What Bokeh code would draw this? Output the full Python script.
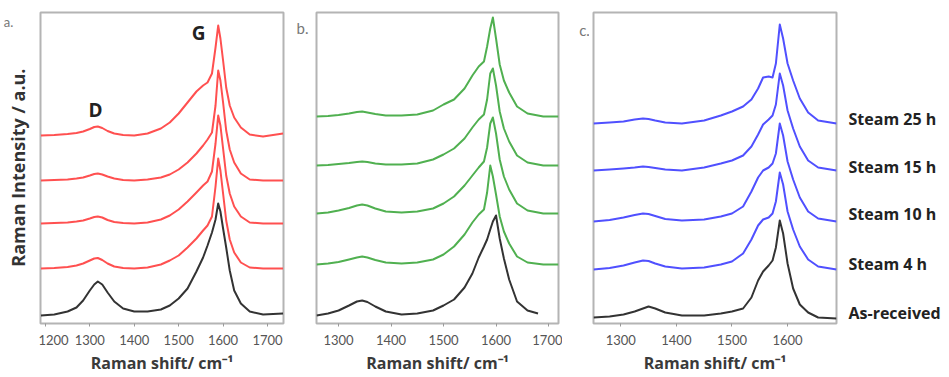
import math
from bokeh.plotting import figure
from bokeh.layouts import row
from bokeh.models import Range1d, FixedTicker
from bokeh.core.properties import value
from bokeh.embed import file_html
from bokeh.resources import INLINE

# ---------------- data -------------------------------------------------------------
# Raman shift (cm^-1) and intensity (a.u.) of each spectrum; the spectra are stacked
# with the vertical offsets given per panel (As-received at the bottom).
shift_a = [1190, 1220, 1250, 1270, 1285, 1300, 1310, 1318, 1328, 1340, 1355, 1375, 1400,
           1430, 1460, 1480, 1500, 1520, 1540, 1555, 1565, 1575, 1583, 1589, 1594, 1600,
           1607, 1615, 1625, 1640, 1660, 1690, 1735]
a_steam25 = [0, 0.5, 1.5, 2.5, 4, 6.5, 8.5, 9, 7.5, 4.5, 2, 0.5, 0,
             2, 7, 13, 22, 33, 44, 50, 53, 62, 88, 110, 97, 75,
             48, 30, 18, 8, 1, -1, 2]
a_steam15 = [0, 0.5, 1, 2, 3, 5, 6.5, 7, 6, 4, 2, 0.5, 0,
             1, 3, 6, 11, 18, 27, 35, 41, 48, 75, 110, 100, 78,
             50, 31, 18, 7, 1, 0, 0]
a_steam10 = [0, 0.5, 1, 2, 3, 5, 6.5, 7, 6, 3.5, 1.5, 0.5, 0,
             1, 4, 8, 14, 22, 31, 38, 42, 52, 80, 108, 98, 75,
             48, 30, 17, 7, 1, 0, 0]
a_steam4 = [0, 0.5, 1.5, 3, 5, 8, 10, 10.5, 8.5, 5, 2, 0.5, 0,
            1, 4, 8, 13, 21, 30, 38, 43, 52, 82, 110, 98, 75,
            48, 29, 16, 6, 1, 0, 0]
a_asrec = [0, 1, 4, 8, 15, 25, 31, 34, 31, 23, 14, 7, 4,
           4, 6, 10, 17, 27, 44, 58, 70, 83, 96, 112, 104, 87,
           68, 45, 25, 12, 4, 1, 2]
offsets_a = [188, 143, 100, 55, 8]

shift_b = [1258, 1280, 1300, 1320, 1335, 1345, 1355, 1370, 1390, 1420, 1450, 1480, 1500,
           1520, 1540, 1555, 1567, 1577, 1583, 1589, 1594, 1600, 1607, 1615, 1625, 1640,
           1660, 1690, 1719]
b_steam25 = [0, 0.5, 1.5, 3, 4.5, 5, 4, 2.5, 1, 1, 2, 6, 12,
             17, 28, 41, 50, 55, 70, 88, 99, 78, 52, 36, 24, 10,
             3, 0, 0]
b_steam15 = [0, 0.5, 1.5, 2.5, 3.5, 4, 3.5, 2, 1, 1, 2, 6, 11,
             17, 27, 38, 46, 51, 66, 92, 97, 80, 54, 37, 24, 10,
             3, 0, 0]
b_steam10 = [0, 1, 3, 5.5, 8, 9, 8, 5, 2, 1, 2, 5, 10,
             17, 28, 38, 46, 52, 66, 90, 96, 80, 54, 37, 24, 10,
             3, 0, 0]
b_steam4 = [0, 1, 2.5, 5, 7, 8, 7, 4.5, 2, 1, 2, 5, 10,
            18, 30, 42, 50, 55, 72, 99, 88, 70, 48, 33, 21, 8,
            2, 0, 0]
shift_b_ar = [1258, 1280, 1300, 1320, 1335, 1345, 1355, 1370, 1390, 1420, 1450, 1480, 1500,
              1520, 1540, 1555, 1567, 1577, 1583, 1589, 1594, 1600, 1607, 1615, 1625, 1640,
              1660, 1680]
b_asrec = [0, 2, 5, 10, 14, 15, 13.5, 9, 4, 1, 2, 5, 10,
           16, 28, 42, 58, 69, 76, 86, 94, 100, 77, 57, 36, 14,
           5, 2]
offsets_b = [207, 158, 110, 59, 8]

shift_c = [1251, 1280, 1305, 1325, 1340, 1350, 1362, 1380, 1410, 1450, 1480, 1500, 1520,
           1535, 1547, 1556, 1566, 1573, 1579, 1586, 1592, 1600, 1610, 1622, 1637, 1655,
           1688]
c_steam25 = [0, 1, 2, 4, 5, 4.5, 3, 1, 0, 3, 8, 12, 17,
             24, 35, 46, 47, 46, 60, 99, 85, 60, 43, 25, 11, 3,
             0]
c_steam15 = [0, 1, 2, 3, 4, 3.5, 2.5, 1, 0, 3, 7, 10, 15,
             24, 36, 46, 51, 55, 66, 97, 85, 60, 42, 24, 10, 3,
             0]
c_steam10 = [0, 1.5, 4, 6.5, 8, 7.5, 5.5, 2.5, 1, 2, 5, 8, 15,
             30, 44, 51, 54, 58, 68, 98, 86, 60, 42, 24, 10, 3,
             0]
c_steam4 = [0, 1.5, 4, 7, 9, 8.5, 6, 3, 1, 2, 5, 8, 16,
            30, 44, 50, 52, 56, 68, 97, 85, 58, 40, 23, 10, 3,
            0]
c_asrec = [0, 1, 3, 6, 9, 11, 9, 5, 2, 2, 4, 6, 9,
           20, 37, 46, 52, 57, 70, 97, 84, 54, 29, 13, 5, 0,
           -1]
offsets_c = [200, 153, 102, 54, 6]

ticks_a = [1200, 1300, 1400, 1500, 1600, 1700]
ticks_b = [1300, 1400, 1500, 1600, 1700]
ticks_c = [1300, 1400, 1500, 1600]

series_labels = ["Steam 25 h", "Steam 15 h", "Steam 10 h", "Steam 4 h", "As-received"]
label_levels = [205, 157, 110, 60, 11]
peak_names = ["D", "G"]
peak_pos = [1313, 1545]
peak_lvl = [214, 291]
panel_tags = ["a.", "b.", "c."]
y_title = "Raman Intensity / a.u."
x_title = "Raman shift/ cm\u207b\u00b9"

RED = "#ff5050"
GREEN = "#50b050"
BLUE = "#5050ff"
BLACK = "#333333"
FONT = "Lato"
TFONT = "Open Sans"
H = 377


# ---------------- helpers ----------------
def make_panel(width, xr, left, right, ticks):
    p = figure(width=width, height=H, x_range=Range1d(*xr), y_range=Range1d(0, 311),
               output_backend="svg", toolbar_location=None,
               min_border_left=left, min_border_right=right,
               min_border_top=12, min_border_bottom=54)
    p.yaxis.visible = False
    p.grid.visible = False
    p.outline_line_color = "#b4b4b4"
    p.outline_line_width = 2
    ax = p.xaxis[0]
    ax.ticker = FixedTicker(ticks=ticks)
    ax.axis_line_color = None
    ax.major_tick_in = 0
    ax.major_tick_out = 3
    ax.major_tick_line_color = "#999999"
    ax.minor_tick_line_color = None
    ax.major_label_standoff = 8
    ax.major_label_text_font = FONT
    ax.major_label_text_font_size = "13px"
    ax.major_label_text_color = "#555555"
    ax.axis_label = x_title
    ax.axis_label_text_font = TFONT
    ax.axis_label_text_font_size = "16px"
    ax.axis_label_text_font_style = "bold"
    ax.axis_label_text_color = "#3a3a3a"
    ax.axis_label_standoff = 4
    return p


def make_spacer(width, bottom=-54, top=323, borders=(0, 0)):
    s = figure(width=width, height=H, x_range=Range1d(0, width), y_range=Range1d(bottom, top),
               output_backend="svg", toolbar_location=None,
               min_border_left=0, min_border_right=0,
               min_border_top=borders[0], min_border_bottom=borders[1])
    s.axis.visible = False
    s.grid.visible = False
    s.outline_line_color = None
    return s


def draw(p, x, series, offsets, color, x_black, black):
    for ys, off in zip(series, offsets[:-1]):
        p.line(x, [v + off for v in ys], line_color=color, line_width=2, line_join="round")
    p.line(x_black, [v + offsets[-1] for v in black], line_color=BLACK, line_width=2,
           line_join="round")


# ---------------- panels ----------------
pa = make_panel(249, (1189, 1736), 2, 4, ticks_a)
pb = make_panel(250, (1258, 1719), 4, 4, ticks_b)
pc = make_panel(251, (1251, 1688), 4, 4, ticks_c)

draw(pa, shift_a, [a_steam25, a_steam15, a_steam10, a_steam4], offsets_a, RED, shift_a, a_asrec)
draw(pb, shift_b, [b_steam25, b_steam15, b_steam10, b_steam4], offsets_b, GREEN, shift_b_ar, b_asrec)
draw(pc, shift_c, [c_steam25, c_steam15, c_steam10, c_steam4], offsets_c, BLUE, shift_c, c_asrec)

# D / G peak names on panel a
pa.text(x=peak_pos, y=peak_lvl, text=peak_names, text_align="center", text_baseline="middle",
        text_font=value(TFONT), text_font_size="19px", text_font_style="bold",
        text_color="#222222")

# ---------------- spacers with surrounding texts ----------------
left = make_spacer(38)
left.text(x=[17], y=[135], text=[y_title], angle=math.pi / 2, text_align="center",
          text_baseline="middle", text_font=value(TFONT), text_font_size="18px",
          text_font_style="bold", text_color="#333333")
left.text(x=[8], y=[311], text=[panel_tags[0]], text_align="center", text_baseline="middle",
          text_font=value(FONT), text_font_size="13px", text_color="#777777")

gap1 = make_spacer(25)
gap1.text(x=[15], y=[304], text=[panel_tags[1]], text_align="center", text_baseline="middle",
          text_font=value(FONT), text_font_size="15px", text_color="#777777")

gap2 = make_spacer(27)
gap2.text(x=[22], y=[302], text=[panel_tags[2]], text_align="center", text_baseline="middle",
          text_font=value(FONT), text_font_size="15px", text_color="#777777")

right = make_spacer(109, bottom=0, top=311, borders=(12, 54))
right.text(x=[8] * len(series_labels), y=label_levels, text=series_labels, text_align="left",
           text_baseline="middle", text_font=value(TFONT), text_font_size="16px",
           text_font_style="bold", text_color="#222222")

layout = row(left, pa, gap1, pb, gap2, pc, right, spacing=0)
open("out.html", "w").write(file_html(layout, INLINE))
